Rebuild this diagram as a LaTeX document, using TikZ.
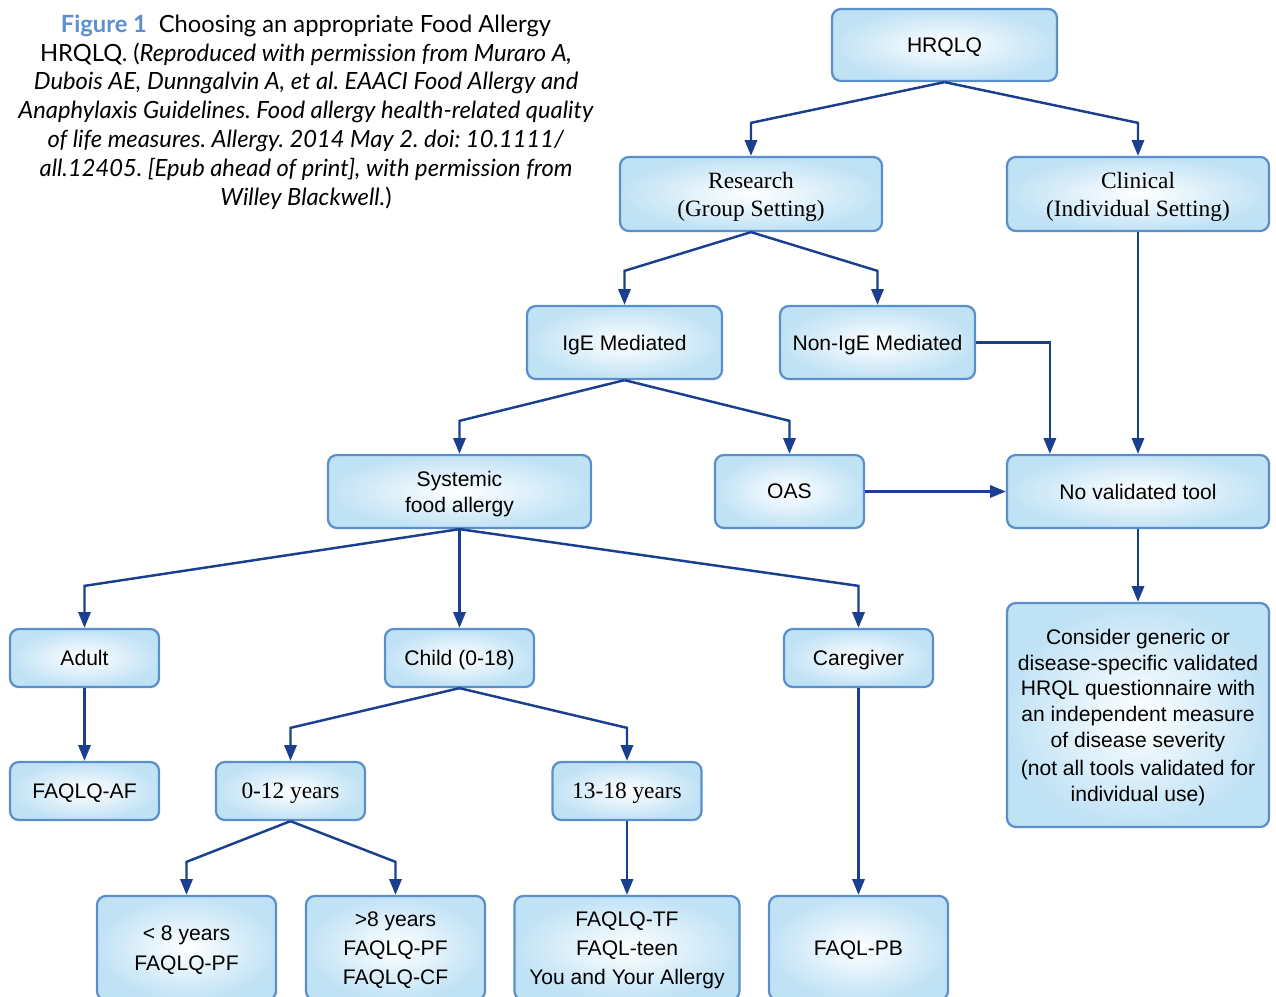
\documentclass[tikz,border=0pt]{standalone}
\usepackage{fontspec}
\setmainfont{Liberation Sans}
\newfontfamily\capfont{Lato}
\newfontfamily\boxserif{Liberation Serif}
\usetikzlibrary{arrows.meta}

\definecolor{boxedge}{RGB}{90,143,204}
\definecolor{boxfill}{RGB}{192,226,245}
\definecolor{linkblue}{RGB}{26,63,143}
\definecolor{figblue}{RGB}{91,143,208}

\tikzset{
  fbox/.style={draw=boxedge, line width=1.3pt, rounded corners=5pt,
    inner color=white, outer color=boxfill, align=center, inner sep=2pt,
    text depth=0pt, font=\fontsize{12}{14.7}\selectfont},
  sbox/.style={fbox, font=\boxserif\fontsize{13.3}{15.9}\selectfont},
  lowbox/.style={fbox, font=\fontsize{12}{16.7}\selectfont,
    minimum height=2.08cm},
  link/.style={draw=linkblue, line width=1.4pt,
    -{Triangle[length=9pt,width=7pt]}},
}

\begin{document}
\frenchspacing
\begin{tikzpicture}[x=0.02cm, y=-0.02cm]
  \useasboundingbox (0,0) rectangle (1276,997);
  \clip (0,0) rectangle (1276,997);

  %--- caption ---
  \node[align=center, font=\capfont\fontsize{13.5}{16.4}\selectfont] (caption) at (306,112)
    {{\color{figblue}\bfseries Figure 1}\enspace Choosing an appropriate Food Allergy\\
     HRQLQ. (\textit{Reproduced with permission from Muraro A,}\\
     \textit{Dubois AE, Dunngalvin A, et al. EAACI Food Allergy and}\\
     \textit{Anaphylaxis Guidelines. Food allergy health-related quality}\\
     \textit{of life measures. Allergy. 2014 May 2. doi: 10.1111/}\\
     \textit{all.12405. [Epub ahead of print], with permission from}\\
     \textit{Willey Blackwell.})};

  %--- top levels ---
  \node[fbox, minimum width=4.5cm, minimum height=1.44cm] (hrqlq) at (944.5,45) {HRQLQ};
  \node[sbox, minimum width=5.24cm, minimum height=1.48cm] (research) at (751,194)
    {Research\\(Group Setting)};
  \node[sbox, minimum width=5.24cm, minimum height=1.48cm] (clinical) at (1138,194)
    {Clinical\\(Individual Setting)};
  \node[fbox, minimum width=3.9cm, minimum height=1.46cm] (ige) at (624.5,342.5) {IgE Mediated};
  \node[fbox, minimum width=3.9cm, minimum height=1.46cm] (nonige) at (877.5,342.5) {Non-IgE Mediated};
  \node[fbox, minimum width=5.26cm, minimum height=1.46cm] (systemic) at (459.5,491.5)
    {Systemic\\food allergy};
  \node[fbox, minimum width=2.98cm, minimum height=1.46cm] (oas) at (789.5,491.5) {OAS};
  \node[fbox, minimum width=5.24cm, minimum height=1.46cm] (novalid) at (1138,491.5) {No validated tool};

  %--- patient groups ---
  \node[fbox, minimum width=2.98cm, minimum height=1.16cm] (adult) at (84.5,658) {Adult};
  \node[fbox, minimum width=2.98cm, minimum height=1.16cm] (child) at (459.5,658) {Child (0-18)};
  \node[fbox, minimum width=2.98cm, minimum height=1.16cm] (caregiver) at (858.5,658) {Caregiver};
  \node[fbox, minimum width=5.24cm, minimum height=4.48cm] (consider) at (1138,715)
    {Consider generic or\\disease-specific validated\\HRQL questionnaire with\\an independent measure\\of disease severity\\[1pt](not all tools validated for\\individual use)};
  \node[fbox, minimum width=2.98cm, minimum height=1.16cm] (faqlqaf) at (84.5,791) {FAQLQ-AF};
  \node[sbox, minimum width=2.98cm, minimum height=1.16cm] (young) at (290.5,791) {0-12 years};
  \node[sbox, minimum width=2.98cm, minimum height=1.16cm] (teen) at (627,791) {13-18 years};

  %--- questionnaires ---
  \node[lowbox, minimum width=3.58cm] (under) at (186.5,948) {< 8 years\\FAQLQ-PF};
  \node[lowbox, minimum width=3.58cm] (over) at (395.5,948) {>8 years\\FAQLQ-PF\\FAQLQ-CF};
  \node[lowbox, minimum width=4.5cm] (teentools) at (627,948)
    {FAQLQ-TF\\FAQL-teen\\You and Your Allergy};
  \node[lowbox, minimum width=3.58cm] (faqlpb) at (858.5,948) {FAQL-PB};

  %--- tree links ---
  \foreach \p/\c/\d in {hrqlq/research/0.66cm, hrqlq/clinical/0.66cm,
      research/ige/0.68cm, research/nonige/0.68cm,
      ige/systemic/0.66cm, ige/oas/0.66cm,
      systemic/adult/0.84cm, systemic/caregiver/0.84cm,
      child/young/0.66cm, child/teen/0.66cm,
      young/under/0.66cm, young/over/0.66cm}
    \draw[link] (\p.south) -- ([yshift=\d]\c.north) -- (\c.north);

  %--- straight links ---
  \draw[link] (systemic.south) -- (child.north);
  \draw[link] (adult.south) -- (faqlqaf.north);
  \draw[link] (teen.south) -- (teentools.north);
  \draw[link] (caregiver.south) -- (faqlpb.north);
  \draw[link] (clinical.south) -- (novalid.north);
  \draw[link] (novalid.south) -- (consider.north);
  \draw[link] (oas.east) -- (novalid.west);
  \draw[link] (nonige.east) -| ([xshift=0.88cm]novalid.north west);
\end{tikzpicture}
\end{document}
